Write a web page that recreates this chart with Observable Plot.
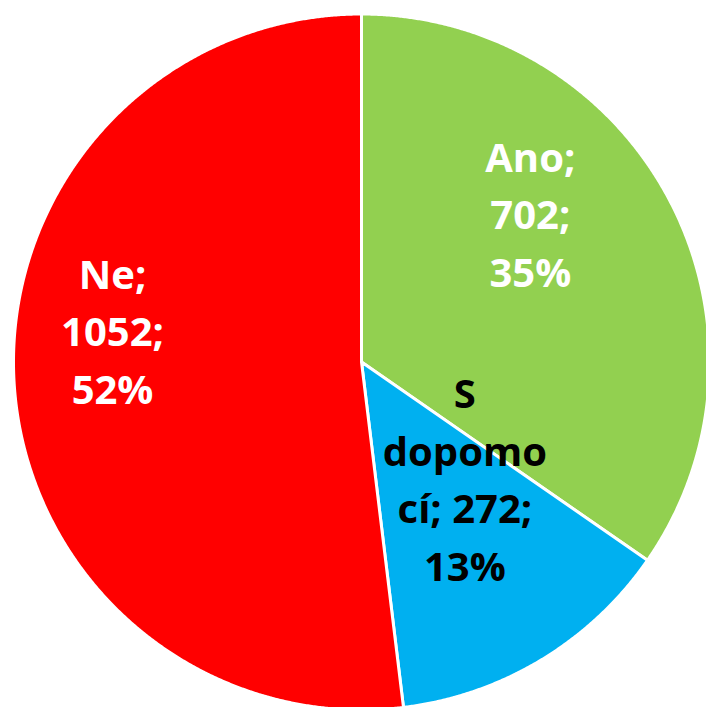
<!DOCTYPE html>
<html><head><meta charset="utf-8">
<script src="https://cdn.jsdelivr.net/npm/d3@7"></script>
<script src="https://cdn.jsdelivr.net/npm/@observablehq/plot@0.6"></script>
<style>html,body{margin:0;padding:0;background:#fff;} svg{display:block;overflow:hidden;}</style>
</head><body><div id="chart"></div>
<script>
// ---- data ----
const categories = ["Ano", "S dopomocí", "Ne"];
const values = [702, 272, 1052];
const percents = ["35%", "13%", "52%"];
const labelTexts = ["Ano;\n702;\n35%", "S\ndopomo\ncí; 272;\n13%", "Ne;\n1052;\n52%"];
const sliceColors = ["#92D050", "#00B0F0", "#FF0000"];
const textColors = ["#FFFFFF", "#000000", "#FFFFFF"];
// label placement (fraction of slice angle, fraction of radius)
const labelAngleFrac = [0.395, 0.30, 0.553];
const labelRadiusFrac = [0.64, 0.455, 0.72];

// ---- layout ----
const W = 706, H = 707, cx = 361, cy = 361.5, R = 348;

const arcs = d3.pie().sort(null).value(d => d)(values);
const poly = [];
arcs.forEach((a, i) => {
  const n = Math.max(2, Math.ceil((a.endAngle - a.startAngle) / 0.004));
  poly.push({cat: categories[i], color: sliceColors[i], x: 0, y: 0});
  for (let k = 0; k <= n; k++) {
    const t = a.startAngle + (a.endAngle - a.startAngle) * k / n;
    poly.push({cat: categories[i], color: sliceColors[i], x: Math.sin(t), y: Math.cos(t)});
  }
  poly.push({cat: categories[i], color: sliceColors[i], x: 0, y: 0});
});

const labels = arcs.map((a, i) => {
  const t = a.startAngle + (a.endAngle - a.startAngle) * labelAngleFrac[i];
  const r = labelRadiusFrac[i];
  return {text: labelTexts[i], color: textColors[i], x: r * Math.sin(t), y: r * Math.cos(t)};
});

const chart = Plot.plot({
  width: W, height: H, margin: 0,
  x: {domain: [-cx / R, (W - cx) / R], axis: null},
  y: {domain: [-(H - cy) / R, cy / R], axis: null},
  color: {type: "identity"},
  marks: [
    Plot.line(poly, {x: "x", y: "y", z: "cat", fill: "color", stroke: "white", strokeWidth: 3, strokeLinejoin: "round", curve: "linear"}),
    Plot.text(labels, {x: "x", y: "y", text: "text", fill: "color", fontSize: 40, fontWeight: "bold",
      fontFamily: "'Open Sans', sans-serif", lineHeight: 1.44, textAnchor: "middle", lineAnchor: "middle", dy: -6})
  ]
});
document.getElementById("chart").appendChild(chart);
</script>
</body></html>
